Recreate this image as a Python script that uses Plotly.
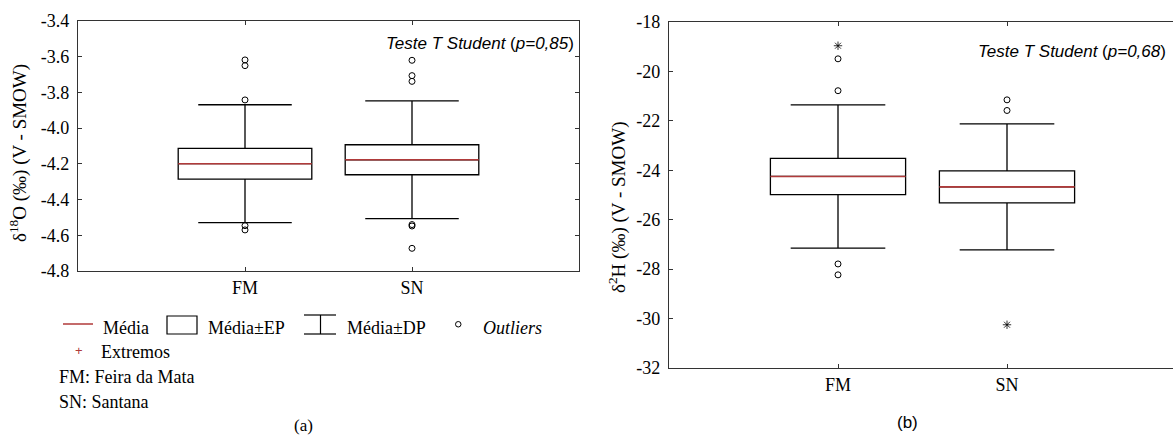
import plotly.graph_objects as go

W, H = 1174, 435

# ---------------- data ----------------
categories = ["FM", "SN"]
cat_pos = [1, 2]

# (a) delta 18O
o_mean = [-4.199, -4.177]
o_se = [0.086, 0.084]
o_sd = [0.330, 0.330]
o_out_fm = [-3.618, -3.650, -3.842, -4.546, -4.570]
o_out_sn = [-3.620, -3.706, -3.738, -4.540, -4.548, -4.673]
o_ticks = [-4.8, -4.6, -4.4, -4.2, -4.0, -3.8, -3.6, -3.4]
o_ticklabels = ["-4.8", "-4.6", "-4.4", "-4.2", "-4.0", "-3.8", "-3.6", "-3.4"]

# (b) delta 2H
h_mean = [-24.25, -24.67]
h_se = [0.735, 0.65]
h_sd = [2.90, 2.55]
h_out_fm = [-19.49, -20.78, -27.79, -28.23]
h_out_sn = [-21.15, -21.58]
h_ext_fm = [-18.96]
h_ext_sn = [-30.25]
h_ticks = [-32, -30, -28, -26, -24, -22, -20, -18]
h_ticklabels = ["-32", "-30", "-28", "-26", "-24", "-22", "-20", "-18"]

p_a = "0,85"
p_b = "0,68"

# ---------------- helpers ----------------
def px(x):
    return x / W

def py(y):
    return 1 - y / H

SERIF = "Liberation Serif"
SANS = "Liberation Sans"
FRAME = "#333333"
RED = "#b03a3a"
BOX_W = 0.8

fig = go.Figure()


def add_panel(xa, ya, means, ses, sds, out_lists, ext_lists):
    fig.add_trace(go.Box(
        x=cat_pos,
        q1=[m - s for m, s in zip(means, ses)],
        median=means,
        q3=[m + s for m, s in zip(means, ses)],
        lowerfence=[m - d for m, d in zip(means, sds)],
        upperfence=[m + d for m, d in zip(means, sds)],
        width=BOX_W, whiskerwidth=0.7,
        line=dict(color="black", width=1.3),
        fillcolor="white", boxpoints=False,
        xaxis=xa, yaxis=ya, showlegend=False, hoverinfo="skip",
    ))
    for c, m in zip(cat_pos, means):
        fig.add_trace(go.Scatter(
            x=[c - BOX_W / 2, c + BOX_W / 2], y=[m, m], mode="lines",
            line=dict(color=RED, width=1.6),
            xaxis=xa, yaxis=ya, showlegend=False, hoverinfo="skip",
        ))
    for c, vals in zip(cat_pos, out_lists):
        fig.add_trace(go.Scatter(
            x=[c] * len(vals), y=vals, mode="markers",
            marker=dict(symbol="circle-open", size=6, color="black",
                        line=dict(width=1, color="black")),
            xaxis=xa, yaxis=ya, showlegend=False, hoverinfo="skip",
        ))
    for c, vals in zip(cat_pos, ext_lists):
        if vals:
            fig.add_trace(go.Scatter(
                x=[c] * len(vals), y=vals, mode="markers",
                marker=dict(symbol="asterisk-open", size=7, color="black",
                            line=dict(width=0.8, color="black")),
                xaxis=xa, yaxis=ya, showlegend=False, hoverinfo="skip",
            ))


add_panel("x", "y", o_mean, o_se, o_sd, [o_out_fm, o_out_sn], [[], []])
add_panel("x2", "y2", h_mean, h_se, h_sd, [h_out_fm, h_out_sn], [h_ext_fm, h_ext_sn])

axis_common = dict(
    showgrid=False, zeroline=False, showline=True, linecolor=FRAME,
    linewidth=1.2, ticks="inside", ticklen=4, tickcolor=FRAME,
    automargin=False,
    tickfont=dict(family=SERIF, size=18, color="black"),
)

B_RIGHT = 1173

fig.update_layout(
    template="none",
    width=W, height=H,
    margin=dict(l=0, r=0, t=0, b=0, pad=0),
    paper_bgcolor="white", plot_bgcolor="white",
    showlegend=False,
    font=dict(family=SERIF, color="black"),
    xaxis=dict(domain=[px(78), px(579)], range=[0, 3], tickvals=cat_pos,
               ticktext=categories, mirror="ticks", anchor="y", **axis_common),
    yaxis=dict(domain=[py(271), py(21)], range=[-4.8, -3.4], tickvals=o_ticks,
               ticktext=o_ticklabels, mirror="ticks", anchor="x",
               ticklabelstandoff=4, **axis_common),
    xaxis2=dict(domain=[px(669), px(B_RIGHT)], range=[0, (B_RIGHT - 669) / 169],
                tickvals=cat_pos, ticktext=categories, mirror="ticks", anchor="y2",
                **axis_common),
    yaxis2=dict(domain=[py(368), py(22)], range=[-32, -18], tickvals=h_ticks,
                ticktext=h_ticklabels, mirror=False, anchor="x2", side="left",
                ticklabelstandoff=4, **axis_common),
)

ann = []
# axis titles
ann.append(dict(text="δ<sup>18</sup>O (‰) (V - SMOW)", x=px(18), y=py(153),
                textangle=-90, font=dict(family=SERIF, size=19, color="black")))
ann.append(dict(text="δ<sup>2</sup>H (‰) (V - SMOW)", x=px(617), y=py(208),
                textangle=-90, font=dict(family=SERIF, size=19, color="black")))
# t-test texts
ann.append(dict(text=f"<i>Teste T Student</i> (<i>p={p_a}</i>)", x=px(576), y=py(43),
                xanchor="right", font=dict(family=SANS, size=17, color="black")))
ann.append(dict(text=f"<i>Teste T Student</i> (<i>p={p_b}</i>)", x=px(1168), y=py(52),
                xanchor="right", font=dict(family=SANS, size=17, color="black")))
# panel labels
ann.append(dict(text="(a)", x=px(303), y=py(425),
                font=dict(family=SERIF, size=17, color="black")))
ann.append(dict(text="(b)", x=px(907), y=py(422),
                font=dict(family=SANS, size=17, color="black")))
# legend texts
leg_font = dict(family=SERIF, size=18, color="black")
for t, x, y in [("Média", 101, 328), ("Média±EP", 206, 328), ("Média±DP", 345, 328),
                ("<i>Outliers</i>", 481, 328), ("Extremos", 99, 352),
                ("FM: Feira da Mata", 57, 377), ("SN: Santana", 57, 402)]:
    ann.append(dict(text=t, x=px(x), y=py(y), xanchor="left", font=leg_font))
ann.append(dict(text="+", x=px(79), y=py(350), font=dict(family=SANS, size=13, color=RED)))

for a in ann:
    a.setdefault("xref", "paper")
    a.setdefault("yref", "paper")
    a.setdefault("showarrow", False)
    a.setdefault("yanchor", "middle")
    a.setdefault("xanchor", "center")
fig.update_layout(annotations=ann)

shapes = [
    dict(type="line", x0=px(63), x1=px(93), y0=py(324), y1=py(324),
         line=dict(color=RED, width=1.5)),
    dict(type="rect", x0=px(167), x1=px(197), y0=py(316), y1=py(334),
         line=dict(color="black", width=1.2)),
    dict(type="line", x0=px(304), x1=px(336), y0=py(315), y1=py(315),
         line=dict(color="black", width=1.2)),
    dict(type="line", x0=px(304), x1=px(336), y0=py(334), y1=py(334),
         line=dict(color="black", width=1.2)),
    dict(type="line", x0=px(320.5), x1=px(320.5), y0=py(315), y1=py(334),
         line=dict(color="black", width=1.2)),
    dict(type="circle", x0=px(455.5), x1=px(461), y0=py(321.5), y1=py(327),
         line=dict(color="black", width=1)),
]
for s in shapes:
    s["xref"] = "paper"
    s["yref"] = "paper"
fig.update_layout(shapes=shapes)

fig.write_html(
    "out.html",
    config={"displayModeBar": False},
    post_script="document.body.style.margin='0';document.body.style.overflow='hidden';",
)
